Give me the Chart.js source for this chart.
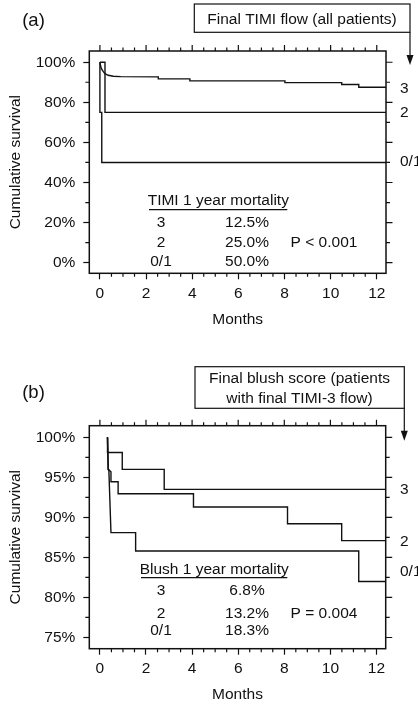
<!DOCTYPE html>
<html><head><meta charset="utf-8">
<script src="https://cdn.jsdelivr.net/npm/chart.js@4.4.1/dist/chart.umd.min.js"></script>
<style>
html,body{margin:0;padding:0;background:#fff;}
#wrap{position:relative;width:418px;height:706px;overflow:hidden;background:#fff;}
canvas{position:absolute;left:0;}
</style></head><body>
<div id="wrap">
<canvas id="ca" width="418" height="340" style="top:0"></canvas>
<canvas id="cb" width="418" height="366" style="top:340px"></canvas>
</div>
<script>
// ---------- DATA ----------
const monthTicks = [0, 2, 4, 6, 8, 10, 12];
const monthMinorTicks = [0.5, 1, 1.5, 2.5, 3, 3.5, 4.5, 5, 5.5, 6.5, 7, 7.5, 8.5, 9, 9.5, 10.5, 11, 11.5];

// Panel (a): Final TIMI flow (all patients)
const survTicksA = [0, 20, 40, 60, 80, 100];
const survMinorTicksA = [10, 30, 50, 70, 90];
const timi3Months = [0, 0.03, 0.07, 0.14, 0.22, 0.36, 0.58, 0.9, 2.53, 2.53, 3.9, 3.9, 8.02, 8.02, 10.48, 10.48, 11.22, 11.22, 12.4];
const timi3Surv   = [100, 98.2, 96.7, 95.4, 94.3, 93.5, 93.0, 92.8, 92.7, 91.7, 91.7, 90.7, 90.7, 89.8, 89.8, 88.9, 88.9, 87.5, 87.5];
const timi2Months = [0, 0.22, 0.22, 12.4];
const timi2Surv   = [100, 100, 75, 75];
const timi01Months = [0, 0, 0.08, 0.08, 12.4];
const timi01Surv   = [100, 75, 75, 50, 50];
const groupLabelsA = ['3', '2', '0/1'];
const mortalityA = ['12.5%', '25.0%', '50.0%'];
const tableTitleA = 'TIMI 1 year mortality';
const pValueA = 'P < 0.001';
const headerA = ['Final TIMI flow (all patients)'];

// Panel (b): Final blush score (patients with final TIMI-3 flow)
const survTicksB = [75, 80, 85, 90, 95, 100];
const survMinorTicksB = [77.5, 82.5, 87.5, 92.5, 97.5];
const blush3Months = [0.33, 0.33, 0.97, 0.97, 2.79, 2.79, 12.4];
const blush3Surv   = [100, 98.1, 98.1, 96.0, 96.0, 93.5, 93.5];
const blush2Months = [0.33, 0.36, 0.48, 0.48, 0.79, 0.79, 4.06, 4.06, 8.14, 8.14, 10.49, 10.49, 12.4];
const blush2Surv   = [100, 96.0, 95.7, 94.45, 94.45, 92.95, 92.95, 91.3, 91.3, 89.2, 89.2, 87.1, 87.1];
const blush01Months = [0.33, 0.36, 0.39, 0.48, 1.55, 1.55, 11.23, 11.23, 12.4];
const blush01Surv   = [100, 96.0, 95.8, 88.1, 88.1, 85.8, 85.8, 82.0, 82.0];
const groupLabelsB = ['3', '2', '0/1'];
const mortalityB = ['6.8%', '13.2%', '18.3%'];
const tableTitleB = 'Blush 1 year mortality';
const pValueB = 'P = 0.004';
const headerB = ['Final blush score (patients', 'with final TIMI-3 flow)'];

// ---------- STYLE / LAYOUT ----------
const FONT = '"Liberation Sans", Arial, Helvetica, sans-serif';
const FS = 15.5;
const INK = '#111';

function pts(xs, ys) { return xs.map((x, i) => ({ x: x, y: ys[i] })); }

const decorPlugin = {
  id: 'decor',
  afterDraw(chart, args, o) {
    const ctx = chart.ctx, a = chart.chartArea, xs = chart.scales.x, ys = chart.scales.y;
    ctx.save();
    ctx.strokeStyle = INK; ctx.fillStyle = INK;
    // box
    ctx.lineWidth = 1.5;
    ctx.strokeRect(a.left, a.top, a.right - a.left, a.bottom - a.top);
    // ticks
    ctx.lineWidth = 1.2;
    ctx.beginPath();
    monthMinorTicks.forEach(v => {
      const px = xs.getPixelForValue(v);
      ctx.moveTo(px, a.bottom); ctx.lineTo(px, a.bottom + 3.5);
      ctx.moveTo(px, a.top); ctx.lineTo(px, a.top - 3.5);
    });
    monthTicks.forEach(v => {
      const px = xs.getPixelForValue(v);
      ctx.moveTo(px, a.top); ctx.lineTo(px, a.top - 6);
    });
    o.minorY.forEach(v => {
      const py = ys.getPixelForValue(v);
      ctx.moveTo(a.left, py); ctx.lineTo(a.left - 4, py);
      ctx.moveTo(a.right, py); ctx.lineTo(a.right + 4, py);
    });
    o.majorY.forEach(v => {
      const py = ys.getPixelForValue(v);
      ctx.moveTo(a.right, py); ctx.lineTo(a.right + 6.5, py);
    });
    ctx.stroke();
    // texts
    ctx.font = FS + 'px ' + FONT;
    ctx.textBaseline = 'middle';
    // right group labels
    ctx.textAlign = 'left';
    o.groups.forEach((g, i) => ctx.fillText(g, 400, o.groupY[i]));
    // table
    ctx.textAlign = 'center';
    ctx.fillText(o.tableTitle, o.titleX, o.rowY[0]);
    ctx.lineWidth = 1.2;
    ctx.beginPath();
    ctx.moveTo(o.ulX[0], o.ulY); ctx.lineTo(o.ulX[1], o.ulY);
    ctx.stroke();
    o.groups.forEach((g, i) => {
      ctx.fillText(g, 161, o.rowY[i + 1]);
      ctx.fillText(o.mort[i], 247, o.rowY[i + 1]);
    });
    ctx.fillText(o.pval, 324, o.rowY[2]);
    // panel letter
    ctx.font = '18.5px ' + FONT;
    ctx.fillText(o.letter, 33.5, o.letterY);
    // header box
    ctx.font = FS + 'px ' + FONT;
    const hb = o.hbox;
    ctx.lineWidth = 1.2;
    ctx.strokeRect(hb[0], hb[1], hb[2] - hb[0], hb[3] - hb[1]);
    o.header.forEach((t, i) => ctx.fillText(t, o.headerX, o.headerY[i]));
    // arrow
    ctx.beginPath();
    ctx.moveTo(hb[2], hb[3]); ctx.lineTo(hb[2], o.arrowTip - 8);
    ctx.stroke();
    ctx.beginPath();
    ctx.moveTo(hb[2] - 3.5, o.arrowTip - 10);
    ctx.lineTo(hb[2] + 3.5, o.arrowTip - 10);
    ctx.lineTo(hb[2], o.arrowTip);
    ctx.closePath(); ctx.fill();
    ctx.restore();
  }
};

function makeChart(id, H, geo, yMin, yMax, yTicks, series, decor) {
  const ds = series.map(s => ({
    data: s, showLine: true, pointRadius: 0, borderColor: INK, borderWidth: 1.4,
    tension: 0, fill: false
  }));
  return new Chart(document.getElementById(id), {
    type: 'scatter',
    data: { datasets: ds },
    options: {
      responsive: false, animation: false, devicePixelRatio: 1,
      layout: { padding: { top: geo.top, right: 418 - geo.right, bottom: Math.max(0, H - geo.bottom - geo.xh), left: 0 } },
      plugins: { legend: { display: false }, tooltip: { enabled: false }, decor: decor },
      scales: {
        x: {
          type: 'linear', position: 'bottom', min: -0.46, max: 12.4,
          afterBuildTicks: s => { s.ticks = monthTicks.map(v => ({ value: v })); },
          afterFit: s => { s.height = geo.xh; },
          ticks: { font: { family: FONT, size: FS }, color: INK, padding: 4.7, maxRotation: 0 },
          grid: { drawOnChartArea: false, drawTicks: true, tickLength: 6, tickColor: INK, tickWidth: 1.2 },
          border: { display: false },
          title: { display: true, text: 'Months', font: { family: FONT, size: FS }, color: INK, padding: { top: 0, bottom: 2 } }
        },
        y: {
          type: 'linear', position: 'left', min: yMin, max: yMax,
          afterBuildTicks: s => { s.ticks = yTicks.map(v => ({ value: v })); },
          afterFit: s => { s.width = geo.left; },
          ticks: { font: { family: FONT, size: FS }, color: INK, padding: 8, callback: v => v + '%' },
          grid: { drawOnChartArea: false, drawTicks: true, tickLength: 6, tickColor: INK, tickWidth: 1.2 },
          border: { display: false },
          title: { display: true, text: 'Cumulative survival', font: { family: FONT, size: FS }, color: INK, padding: { top: 6, bottom: 0 } }
        }
      }
    },
    plugins: [decorPlugin]
  });
}

makeChart('ca', 340, { top: 51, bottom: 273.3, left: 89.3, right: 386, xh: 58 },
  -5.3, 105.6, survTicksA,
  [pts(timi3Months, timi3Surv), pts(timi2Months, timi2Surv), pts(timi01Months, timi01Surv)],
  {
    minorY: survMinorTicksA, majorY: survTicksA, groups: groupLabelsA, groupY: [88.3, 112.3, 161.7],
    tableTitle: tableTitleA, titleX: 218.3, rowY: [201, 222.3, 242.7, 261.7], ulX: [149, 287.3], ulY: 209.7,
    mort: mortalityA, pval: pValueA, letter: '(a)', letterY: 20.7,
    hbox: [194.3, 4, 410, 32.3], header: headerA, headerX: 302, headerY: [19.5], arrowTip: 65
  });

makeChart('cb', 366, { top: 85.7, bottom: 308.7, left: 89.3, right: 385.7, xh: 57.3 },
  73.6, 101.45, survTicksB,
  [pts(blush3Months, blush3Surv), pts(blush2Months, blush2Surv), pts(blush01Months, blush01Surv)],
  {
    minorY: survMinorTicksB, majorY: survTicksB, groups: groupLabelsB, groupY: [149.5, 201.7, 231.7],
    tableTitle: tableTitleB, titleX: 214.2, rowY: [230, 251, 274, 291], ulX: [141, 287.3], ulY: 237.7,
    mort: mortalityB, pval: pValueB, letter: '(b)', letterY: 53.3,
    hbox: [195, 26.7, 404.3, 68.3], header: headerB, headerX: 299.5, headerY: [38.3, 58.3], arrowTip: 100.7
  });
</script>
</body></html>
